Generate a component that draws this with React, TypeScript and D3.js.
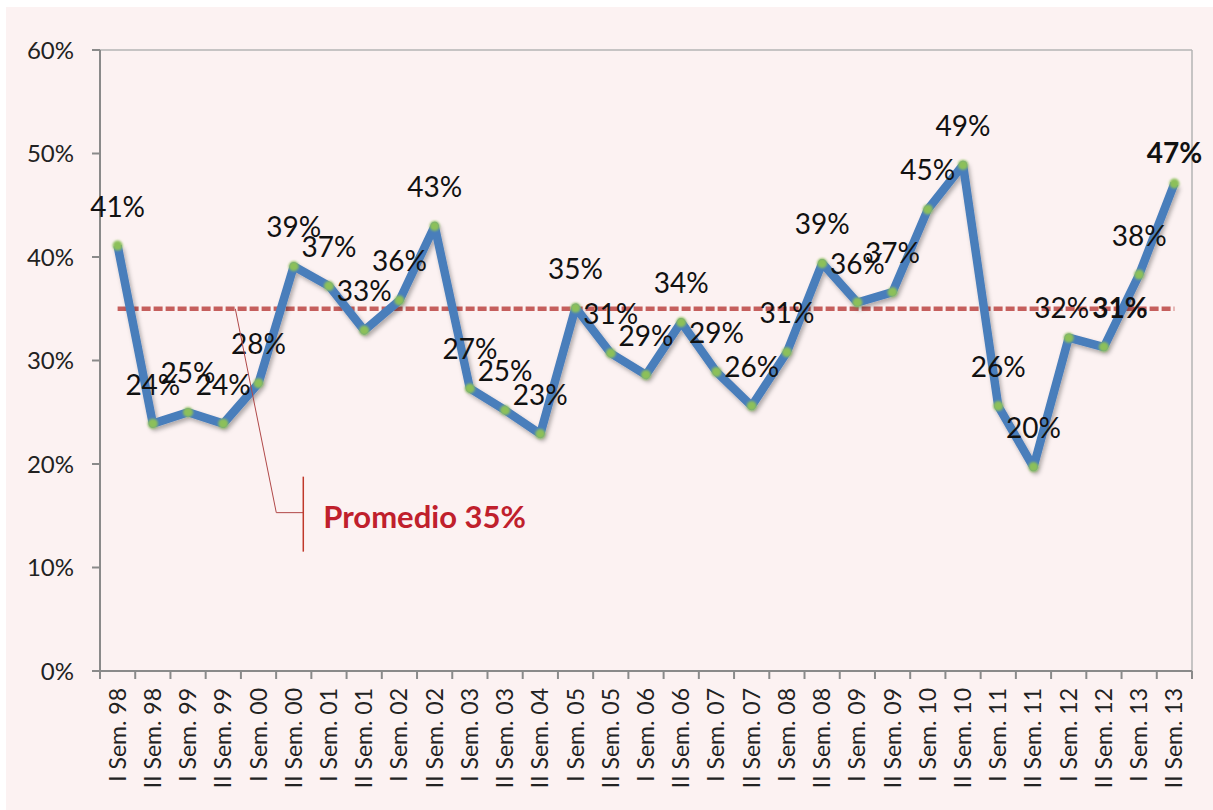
import React from "react";
import * as d3 from "d3";

const categories: string[] = [
  "I Sem. 98", "II Sem. 98", "I Sem. 99", "II Sem. 99", "I Sem. 00", "II Sem. 00",
  "I Sem. 01", "II Sem. 01", "I Sem. 02", "II Sem. 02", "I Sem. 03", "II Sem. 03",
  "II Sem. 04", "I Sem. 05", "II Sem. 05", "I Sem. 06", "II Sem. 06", "I Sem. 07",
  "II Sem. 07", "I Sem. 08", "II Sem. 08", "I Sem. 09", "II Sem. 09", "I Sem. 10",
  "II Sem. 10", "I Sem. 11", "II Sem. 11", "I Sem. 12", "II Sem. 12", "I Sem. 13",
  "II Sem. 13",
];

const values: number[] = [
  0.411, 0.239, 0.25, 0.239, 0.278, 0.391, 0.372, 0.329, 0.358, 0.43, 0.273, 0.252,
  0.229, 0.351, 0.307, 0.286, 0.337, 0.289, 0.256, 0.308, 0.394, 0.356, 0.366, 0.446,
  0.489, 0.256, 0.197, 0.322, 0.313, 0.383, 0.471,
];

const average = 0.35;
const averageLabel = "Promedio 35%";
const yTicks: number[] = [0, 0.1, 0.2, 0.3, 0.4, 0.5, 0.6];
const boldLabels: number[] = [28, 30];
// small manual label nudges [index, dx, dy]
const labelNudges: [number, number, number][] = [
  [27, -7, 9],
  [28, 16, 0],
  [30, 0, 8],
];

const W = 1213;
const H = 810;
const left = 100;
const right = 1192;
const top = 50;
const bottom = 671;

export default function App() {
  const x = d3.scaleBand<string>().domain(categories).range([left, right]).padding(0);
  const y = d3.scaleLinear().domain([0, 0.6]).range([bottom, top]);
  const cx = (c: string) => (x(c) as number) + x.bandwidth() / 2;
  const pct = d3.format(".0%");

  const line = d3
    .line<number>()
    .x((_, i) => cx(categories[i]))
    .y((d) => y(d));

  const xFirst = cx(categories[0]);
  const xLast = cx(categories[categories.length - 1]);
  const yAvg = y(average);

  const boundaries = categories.map((c) => x(c) as number).concat([right]);

  const nudge = (i: number) => {
    const n = labelNudges.find((t) => t[0] === i);
    return n ? [n[1], n[2]] : [0, 0];
  };

  // callout geometry
  const anchorX = cx(categories[3]) + 12;
  const elbowY = y(0.153);
  const elbowX = anchorX + 41;
  const barX = elbowX + 27;

  return (
    <svg
      width={W}
      height={H}
      style={{ position: "absolute", left: 0, top: 0, display: "block" }}
      fontFamily="Lato, 'Open Sans', sans-serif"
    >
      <defs>
        <filter id="shadow" x="-5%" y="-10%" width="110%" height="130%">
          <feDropShadow dx="2" dy="3" stdDeviation="2" floodColor="#000" floodOpacity="0.3" />
        </filter>
        <filter id="soft" x="-50%" y="-50%" width="200%" height="200%">
          <feGaussianBlur stdDeviation="1" />
        </filter>
      </defs>
      <rect x={0} y={0} width={W} height={H} fill="#ffffff" />
      <rect x={6} y={7} width={W - 6} height={H - 7} fill="#fcf2f2" />

      {/* plot border top & right */}
      <line x1={left} x2={right} y1={top} y2={top} stroke="#b5b5b5" strokeWidth={1.5} />
      <line x1={right} x2={right} y1={top} y2={bottom} stroke="#b5b5b5" strokeWidth={1.5} />

      {/* y axis */}
      <line x1={left} x2={left} y1={top} y2={bottom} stroke="#8a8a8a" strokeWidth={2} />
      {yTicks.map((t) => (
        <g key={t}>
          <line x1={left - 8} x2={left} y1={y(t)} y2={y(t)} stroke="#8a8a8a" strokeWidth={2} />
          <text
            x={74}
            y={y(t)}
            dy="0.36em"
            textAnchor="end"
            fontSize={24}
            fill="#222"
          >
            {pct(t)}
          </text>
        </g>
      ))}

      {/* x axis */}
      <line x1={left - 8} x2={right} y1={bottom} y2={bottom} stroke="#8a8a8a" strokeWidth={2} />
      {boundaries.map((b, i) => (
        <line key={i} x1={b} x2={b} y1={bottom} y2={bottom + 8} stroke="#8a8a8a" strokeWidth={2} />
      ))}
      {categories.map((c) => (
        <text
          key={c}
          transform={`translate(${cx(c) + 8},${bottom + 17}) rotate(-90)`}
          textAnchor="end"
          fontSize={23}
          fill="#222"
        >
          {c}
        </text>
      ))}

      {/* average line */}
      <line
        x1={xFirst}
        x2={xLast}
        y1={yAvg}
        y2={yAvg}
        stroke="#c0504d"
        strokeWidth={4.5}
        strokeDasharray="9 3"
        opacity={0.9}
      />

      {/* series */}
      <path
        d={line(values) || ""}
        fill="none"
        stroke="#4a7ebb"
        strokeWidth={8.5}
        strokeLinejoin="round"
        filter="url(#shadow)"
      />
      {values.map((v, i) => (
        <circle
          key={i}
          cx={cx(categories[i])}
          cy={y(v)}
          r={5}
          fill="#8cc05a"
          filter="url(#soft)"
        />
      ))}

      {/* data labels */}
      {values.map((v, i) => {
        const [dx, dy] = nudge(i);
        return (
          <text
            key={i}
            x={cx(categories[i]) + dx}
            y={y(v) - 29 + dy}
            textAnchor="middle"
            fontSize={28}
            fontWeight={boldLabels.includes(i) ? 700 : 400}
            fill="#111"
          >
            {pct(v)}
          </text>
        );
      })}

      {/* callout */}
      <polyline
        points={`${anchorX},${yAvg} ${elbowX},${elbowY} ${barX},${elbowY}`}
        fill="none"
        stroke="#b04848"
        strokeWidth={1}
      />
      <line x1={barX} x2={barX} y1={elbowY - 36} y2={elbowY + 39} stroke="#c0392b" strokeWidth={1.5} />
      <text x={barX + 20} y={elbowY + 15} fontSize={31} fontWeight={700} fill="#c0202c">
        {averageLabel}
      </text>
    </svg>
  );
}
